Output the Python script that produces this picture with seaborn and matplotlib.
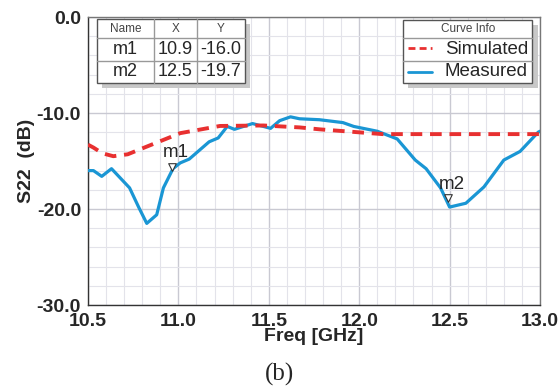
import matplotlib
matplotlib.use("Agg")
import matplotlib.pyplot as plt
from matplotlib.patches import Rectangle
from matplotlib.lines import Line2D
import numpy as np
import pandas as pd
import seaborn as sns

meas_f = [10.50, 10.53, 10.576, 10.63, 10.73, 10.78, 10.825, 10.88, 10.917, 10.97, 11.01, 11.06,
          11.17, 11.22, 11.27, 11.31, 11.41, 11.51, 11.56, 11.62, 11.67, 11.78, 11.91, 11.97,
          12.10, 12.21, 12.31, 12.37, 12.45, 12.50, 12.59, 12.69, 12.80, 12.89, 12.99, 13.0]
meas_db = [-16.0, -16.0, -16.6, -15.8, -17.8, -19.8, -21.5, -20.6, -17.8, -15.8, -15.2, -14.8,
           -13.0, -12.6, -11.4, -11.7, -11.1, -11.6, -10.8, -10.4, -10.6, -10.7, -11.0, -11.4,
           -11.9, -12.7, -14.9, -15.8, -17.8, -19.8, -19.4, -17.7, -14.9, -14.0, -12.0, -11.9]
sim_f = [10.50, 10.53, 10.58, 10.64, 10.72, 10.825, 11.01, 11.23, 11.47, 11.67, 11.78, 12.13, 12.5, 13.0]
sim_db = [-13.3, -13.6, -14.2, -14.5, -14.3, -13.5, -12.1, -11.35, -11.3, -11.5, -11.7, -12.2, -12.2, -12.2]

markers = ["m1", "m2"]
marker_x = [10.9, 12.5]
marker_y = [-16.0, -19.7]
marker_plot_x = [10.965, 12.49]
marker_plot_y = [-15.6, -18.9]

df = pd.concat([
    pd.DataFrame({"Freq": sim_f, "S22": sim_db, "Curve": "Simulated"}),
    pd.DataFrame({"Freq": meas_f, "S22": meas_db, "Curve": "Measured"}),
])

sns.set_style("white")
plt.rcParams['font.family'] = ['Liberation Sans', 'DejaVu Sans']

fig = plt.figure(figsize=(5.59, 3.91), dpi=100)
ax = fig.add_axes([88/559, 1-305/391, (540-88)/559, (305-17)/391])

red = "#e83030"
blue = "#1a96d4"
sns.lineplot(data=df[df.Curve == "Simulated"], x="Freq", y="S22", ax=ax, color=red,
             lw=2.8, linestyle=(0, (3, 2)), legend=False, zorder=4)
sns.lineplot(data=df[df.Curve == "Measured"], x="Freq", y="S22", ax=ax, color=blue,
             lw=2.3, legend=False, zorder=3)

ax.set_xlim(10.5, 13.0)
ax.set_ylim(-30, 0)
ax.set_xticks(np.arange(10.5, 13.01, 0.5))
ax.set_xticks(np.arange(10.5, 13.01, 0.1), minor=True)
ax.set_yticks([-30, -20, -10, 0])
ax.set_yticks(np.arange(-30, 0.1, 2), minor=True)
ax.set_xticklabels([f"{v:.1f}" for v in np.arange(10.5, 13.01, 0.5)])
ax.set_yticklabels([f"{v:.1f}" for v in [-30, -20, -10, 0]])
ax.grid(which="major", color="#c9c9d2", lw=1.0)
ax.grid(which="minor", color="#e3e3ea", lw=0.8)
ax.set_axisbelow(True)
for lab in ax.get_xticklabels() + ax.get_yticklabels():
    lab.set_fontweight("bold")
    lab.set_fontsize(14)
ax.tick_params(axis="x", which="both", direction="in", length=3, color="#333333", pad=5.5)
ax.tick_params(axis="y", which="both", direction="out", length=4, color="#333333", pad=1)
ax.set_xlabel("Freq [GHz]", fontsize=14, fontweight="bold", labelpad=-1)
ax.set_ylabel("S22  (dB)", fontsize=14, fontweight="bold", labelpad=1)
for s in ["left", "bottom"]:
    ax.spines[s].set_color("#333333")
    ax.spines[s].set_linewidth(1.0)
for s in ["top", "right"]:
    ax.spines[s].set_color("#777777")
    ax.spines[s].set_linewidth(1.0)

# markers
ax.scatter(marker_plot_x, marker_plot_y, marker="v", s=30, facecolor="white",
           edgecolor="#333333", linewidths=0.8, zorder=6)
for n, mx, my in zip(markers, marker_plot_x, marker_plot_y):
    ax.text(mx + 0.02, my + 0.6, n, fontsize=13.5, ha="center", va="bottom", zorder=6)


def box(x0, y0, x1, y1, **kw):
    fig.add_artist(Rectangle((x0 / 559, 1 - y1 / 391), (x1 - x0) / 559, (y1 - y0) / 391,
                             transform=fig.transFigure, **kw))


def seg(x0, y0, x1, y1, **kw):
    fig.add_artist(Line2D([x0 / 559, x1 / 559], [1 - y0 / 391, 1 - y1 / 391],
                          transform=fig.transFigure, **kw))


def txt(x, y, s, **kw):
    fig.text(x / 559, 1 - y / 391, s, **kw)


# marker table
box(102, 24, 250, 88, facecolor="#c8c8c8", edgecolor="none", zorder=9)
box(97, 19, 245, 83, facecolor="white", edgecolor="#555555", lw=1.0, zorder=10)
for y in [38, 61]:
    seg(97, y, 245, y, color="#999999", lw=1, zorder=11)
for x in [154, 197]:
    seg(x, 19, x, 83, color="#999999", lw=1, zorder=11)
hdr = ["Name", "X", "Y"]
colx = [125.5, 175.5, 221]
for cx, h in zip(colx, hdr):
    txt(cx, 29, h, fontsize=8.5, color="#444444", ha="center", va="center", zorder=12)
for i, (n, mx, my) in enumerate(zip(markers, marker_x, marker_y)):
    yy = 50 + 22 * i
    txt(colx[0], yy, n, fontsize=13, ha="center", va="center", zorder=12)
    txt(colx[1], yy, f"{mx:.1f}", fontsize=13, ha="center", va="center", zorder=12)
    txt(colx[2], yy, f"{my:.1f}", fontsize=13, ha="center", va="center", zorder=12)

# legend box
box(408, 25, 538, 88, facecolor="#c8c8c8", edgecolor="none", zorder=9)
box(403, 20, 532, 83, facecolor="white", edgecolor="#555555", lw=1.0, zorder=10)
for y in [38, 61]:
    seg(403, y, 532, y, color="#999999", lw=1, zorder=11)
txt(468, 29, "Curve Info", fontsize=8.5, color="#444444", ha="center", va="center", zorder=12)
seg(408, 48, 432, 48, color=red, lw=2, linestyle=(0, (2.5, 1.5)), zorder=12)
seg(408, 72, 432, 72, color=blue, lw=2, zorder=12)
txt(528, 49, "Simulated", fontsize=13.5, ha="right", va="center", zorder=12)
txt(528, 72, "Measured", fontsize=13.5, ha="right", va="center", zorder=12)

fig.text(0.5, 1 - 374 / 391, "(b)", fontsize=18, ha="center", va="center",
         family=["Liberation Serif"])

fig.savefig("out.png", dpi=100)
